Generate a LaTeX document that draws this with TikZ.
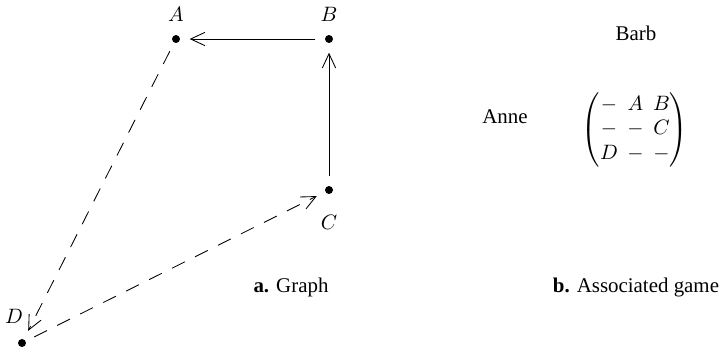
\documentclass[tikz,border=0pt]{standalone}
\usepackage{amsmath}
\usepackage{fontspec}
\setmainfont{Liberation Serif}
\usetikzlibrary{arrows.meta}
\begin{document}
\begin{tikzpicture}[x=0.526pt,y=-0.526pt,
  font=\fontsize{11}{13}\selectfont,
  vtx/.style={circle,inner sep=0pt,minimum size=14pt},
  edge/.style={line width=0.45pt,-{Straight Barb[length=7.5pt,width=7pt]}},
  dedge/.style={edge,dash pattern=on 7.5pt off 6pt},
  lbl/.style={inner sep=0pt}]
\useasboundingbox (0,0) rectangle (720,351);
\node[vtx] (A) at (176,39) {};
\node[vtx] (B) at (329,39) {};
\node[vtx] (C) at (329,190) {};
\node[vtx] (D) at (22,343) {};
\foreach \v in {A,B,C,D} \fill (\v.center) circle (2.1pt);
\node[lbl] (lA) at (176,14) {$A$};
\node[lbl] (lB) at (329,14) {$B$};
\node[lbl] (lC) at (329,222) {$C$};
\node[lbl] (lD) at (14,316) {$D$};
\draw[edge] (B) -- (A);
\draw[edge] (C) -- (B);
\draw[dedge] (A) -- (D);
\draw[dedge] (D) -- (C);
\node[lbl] (barb) at (636,33) {Barb};
\node[lbl] (anne) at (505,117) {Anne};
\node[lbl] (mat) at (635,130) {\setlength{\arraycolsep}{2.5pt}$\begin{pmatrix} - & A & B\\ - & - & C\\ D & - & -\end{pmatrix}$};
\node[lbl] (capa) at (291,287) {\textbf{a.} Graph};
\node[lbl] (capb) at (636,287) {\textbf{b.} Associated game};
\end{tikzpicture}
\end{document}
